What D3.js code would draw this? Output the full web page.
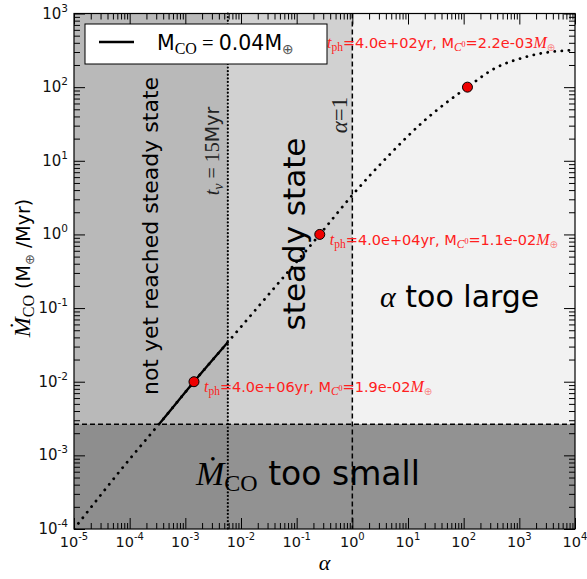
<!DOCTYPE html>
<html><head><meta charset="utf-8">
<script src="https://cdn.jsdelivr.net/npm/d3@7"></script>
<style>
body{margin:0;background:#fff;}
text{font-family:"DejaVu Sans",sans-serif;}
.math{font-family:"Liberation Serif","DejaVu Serif",serif;}
</style></head>
<body><svg id="c" width="587" height="579"></svg>
<script>
// ---- data ----
const curveAlpha = [1e-5, 1e-4, 3.36e-4, 1.43e-3, 5.8e-3, 0.03, 0.26, 1, 4.7, 18.7, 117, 387, 1150, 3000, 1e4];
const curveMdot  = [1.0e-4, 8.9e-4, 2.65e-3, 1.0e-2, 3.44e-2, 0.147, 1.0, 3.42, 12.2, 33.9, 100, 185, 250, 295, 318];
const pointAlpha = [1.43e-3, 0.26, 117];
const pointMdot  = [1.0e-2, 1.0, 100];
const tphLabels  = ["4.0e+06", "4.0e+04", "4.0e+02"];
const mc0Labels  = ["1.9e-02", "1.1e-02", "2.2e-03"];
const labelAlpha = [2.16e-3, 0.394, 0.35];
const labelMdot  = [7.2e-3, 0.716, 340];
const alphaNu = 5.8e-3;     // t_nu = 15 Myr
const alphaMax = 1;         // alpha = 1
const mdotMin = 2.65e-3;    // Mdot too small threshold
const xTickExps = [-5,-4,-3,-2,-1,0,1,2,3,4];
const yTickExps = [-4,-3,-2,-1,0,1,2,3];

// ---- setup ----
const svg = d3.select("#c");
const x = d3.scaleLog().domain([1e-5,1e4]).range([74,575]);
const y = d3.scaleLog().domain([1e-4,1e3]).range([529,13.5]);
const [x0,x1] = x.range(), [y0,y1] = y.range();

// regions
const reg = svg.append("g");
reg.append("rect").attr("x",x0).attr("y",y1).attr("width",x(alphaNu)-x0).attr("height",y(mdotMin)-y1).attr("fill","#b9b9b9");
reg.append("rect").attr("x",x(alphaNu)).attr("y",y1).attr("width",x(alphaMax)-x(alphaNu)).attr("height",y(mdotMin)-y1).attr("fill","#d1d1d1");
reg.append("rect").attr("x",x(alphaMax)).attr("y",y1).attr("width",x1-x(alphaMax)).attr("height",y(mdotMin)-y1).attr("fill","#f2f2f2");
reg.append("rect").attr("x",x0).attr("y",y(mdotMin)).attr("width",x(alphaNu)-x0).attr("height",y0-y(mdotMin)).attr("fill","#8e8e8e");
reg.append("rect").attr("x",x(alphaNu)).attr("y",y(mdotMin)).attr("width",x1-x(alphaNu)).attr("height",y0-y(mdotMin)).attr("fill","#929292");

// big region texts
function rotText(tx, ty, size, str, cls){
  return svg.append("text").attr("transform",`translate(${tx},${ty}) rotate(-90)`)
    .attr("text-anchor","middle").attr("font-size",size).attr("class",cls||null).text(str);
}
rotText(158, 236, 22, "not yet reached steady state");
rotText(305, 234, 31, "steady state");
// t_nu = 15Myr
{
  const t = svg.append("text").attr("transform","translate(219,151) rotate(-90)").attr("text-anchor","middle").attr("font-size",20).attr("fill","#222");
  t.append("tspan").attr("class","math").attr("font-style","italic").text("t");
  t.append("tspan").attr("class","math").attr("font-style","italic").attr("font-size",14).attr("dy",4).text("ν");
  t.append("tspan").attr("class","math").attr("dy",-4).text(" = 15");
  t.append("tspan").attr("font-size",19).text("Myr");
}
// alpha = 1
{
  const t = svg.append("text").attr("transform","translate(347,115) rotate(-90)").attr("text-anchor","middle").attr("font-size",23).attr("class","math").attr("fill","#222");
  t.append("tspan").attr("font-style","italic").text("α");
  t.append("tspan").text("=1");
}
// alpha too large
{
  const t = svg.append("text").attr("x",380).attr("y",307).attr("font-size",30);
  t.append("tspan").attr("class","math").attr("font-style","italic").text("α");
  t.append("tspan").text(" too large");
}
// Mdot too small
{
  const t = svg.append("text").attr("x",196).attr("y",485).attr("font-size",33);
  t.append("tspan").attr("class","math").attr("font-style","italic").attr("font-size",34).text("Ṁ");
  t.append("tspan").attr("class","math").attr("font-size",24).attr("dy",6).text("CO");
  t.append("tspan").attr("dy",-6).text(" too small");
}

// reference lines
svg.append("line").attr("x1",x(alphaNu)).attr("x2",x(alphaNu)).attr("y1",y1).attr("y2",y0)
  .attr("stroke","#000").attr("stroke-width",2.2).attr("stroke-dasharray","0.1,3.5").attr("stroke-linecap","round");
svg.append("line").attr("x1",x(alphaMax)).attr("x2",x(alphaMax)).attr("y1",y1).attr("y2",y0)
  .attr("stroke","#000").attr("stroke-width",1.5).attr("stroke-dasharray","5,3");
svg.append("line").attr("x1",x0).attr("x2",x1).attr("y1",y(mdotMin)).attr("y2",y(mdotMin))
  .attr("stroke","#000").attr("stroke-width",1.5).attr("stroke-dasharray","5,3");

// curve
const defs = svg.append("defs");
defs.append("clipPath").attr("id","solidclip").append("rect")
  .attr("x",x0).attr("y",y1).attr("width",x(alphaNu)-x0).attr("height",y(mdotMin)-y1);
defs.append("clipPath").attr("id","plotclip").append("rect")
  .attr("x",x0).attr("y",y1).attr("width",x1-x0).attr("height",y0-y1);
const pts = curveAlpha.map((a,i)=>[a,curveMdot[i]]);
const line = d3.line().x(d=>x(d[0])).y(d=>y(d[1])).curve(d3.curveMonotoneX);
svg.append("path").attr("d",line(pts)).attr("fill","none").attr("stroke","#000").attr("stroke-width",2.8)
  .attr("stroke-dasharray","0.1,7").attr("stroke-linecap","round").attr("clip-path","url(#plotclip)");
svg.append("path").attr("d",line(pts)).attr("fill","none").attr("stroke","#000").attr("stroke-width",2.4)
  .attr("clip-path","url(#solidclip)");

// red points
svg.append("g").selectAll("circle").data(pointAlpha).join("circle")
  .attr("cx",d=>x(d)).attr("cy",(d,i)=>y(pointMdot[i])).attr("r",5)
  .attr("fill","#ee0000").attr("stroke","#000").attr("stroke-width",1);

// red labels
labelAlpha.forEach((a,i)=>{
  const t = svg.append("text").attr("x",x(a)).attr("y",y(labelMdot[i])).attr("font-size",14.5).attr("fill","#ff2020");
  t.append("tspan").attr("class","math").attr("font-style","italic").attr("font-size",16).text("t");
  t.append("tspan").attr("class","math").attr("font-size",11.5).attr("dy",3).text("ph");
  t.append("tspan").attr("dy",-3).text("=" + tphLabels[i] + "yr, M");
  t.append("tspan").attr("class","math").attr("font-style","italic").attr("font-size",11.5).attr("dy",3).text("C");
  t.append("tspan").attr("class","math").attr("font-size",8).attr("dy",-4).text("0");
  t.append("tspan").attr("dy",1).text("=" + mc0Labels[i]);
  t.append("tspan").attr("class","math").attr("font-style","italic").attr("font-size",16).text("M");
  t.append("tspan").attr("font-size",10).attr("dy",3).attr("fill-opacity",0.55).text("⊕");
});

// axes (ticks inside)
const majX = xTickExps.map(e=>Math.pow(10,e));
const majY = yTickExps.map(e=>Math.pow(10,e));
const minX = [], minY = [];
xTickExps.slice(0,-1).forEach(e=>{ for(let k=2;k<10;k++) minX.push(k*Math.pow(10,e)); });
yTickExps.slice(0,-1).forEach(e=>{ for(let k=2;k<10;k++) minY.push(k*Math.pow(10,e)); });
function addAxis(gen, tr){
  const g = svg.append("g").attr("transform",tr).call(gen);
  g.select(".domain").remove();
  g.selectAll("text").remove();
  g.selectAll("line").attr("stroke","#000").attr("stroke-width",1);
  return g;
}
addAxis(d3.axisBottom(x).tickValues(majX).tickSize(-11).tickFormat(""), `translate(0,${y0})`);
addAxis(d3.axisBottom(x).tickValues(minX).tickSize(-6).tickFormat(""), `translate(0,${y0})`);
addAxis(d3.axisTop(x).tickValues(majX).tickSize(-11).tickFormat(""), `translate(0,${y1})`);
addAxis(d3.axisTop(x).tickValues(minX).tickSize(-6).tickFormat(""), `translate(0,${y1})`);
addAxis(d3.axisLeft(y).tickValues(majY).tickSize(-11).tickFormat(""), `translate(${x0},0)`);
addAxis(d3.axisLeft(y).tickValues(minY).tickSize(-6).tickFormat(""), `translate(${x0},0)`);
addAxis(d3.axisRight(y).tickValues(majY).tickSize(-11).tickFormat(""), `translate(${x1},0)`);
addAxis(d3.axisRight(y).tickValues(minY).tickSize(-6).tickFormat(""), `translate(${x1},0)`);

// frame
svg.append("rect").attr("x",x0).attr("y",y1).attr("width",x1-x0).attr("height",y0-y1)
  .attr("fill","none").attr("stroke","#000").attr("stroke-width",1.2);

// tick labels
xTickExps.forEach(e=>{
  const t = svg.append("text").attr("x",x(Math.pow(10,e))).attr("y",547).attr("text-anchor","middle").attr("font-size",14.5).attr("fill","#111");
  t.append("tspan").text("10");
  t.append("tspan").attr("font-size",10).attr("dy",-7).text(String(e));
});
yTickExps.forEach(e=>{
  const t = svg.append("text").attr("x",68).attr("y",y(Math.pow(10,e))+5).attr("text-anchor","end").attr("font-size",15).attr("fill","#111");
  t.append("tspan").text("10");
  t.append("tspan").attr("font-size",10.5).attr("dy",-7).text(String(e));
});

// axis labels
svg.append("text").attr("x",(x0+x1)/2).attr("y",570).attr("text-anchor","middle").attr("font-size",22)
  .attr("class","math").attr("font-style","italic").text("α");
{
  const t = svg.append("text").attr("transform","translate(30,268) rotate(-90)").attr("text-anchor","middle").attr("font-size",19);
  t.append("tspan").attr("class","math").attr("font-style","italic").attr("font-size",24).text("Ṁ");
  t.append("tspan").attr("class","math").attr("font-size",16).attr("dy",4).text("CO");
  t.append("tspan").attr("dy",-4).text(" (M");
  t.append("tspan").attr("font-size",13).attr("dy",4).attr("fill","#555").text("⊕");
  t.append("tspan").attr("dy",-4).text(" /Myr)");
}

// legend
{
  const lg = svg.append("g");
  lg.append("rect").attr("x",85).attr("y",24).attr("width",242).attr("height",40).attr("fill","#fff").attr("stroke","#000").attr("stroke-width",1);
  lg.append("line").attr("x1",99).attr("x2",134).attr("y1",42).attr("y2",42).attr("stroke","#000").attr("stroke-width",2.4);
  const t = lg.append("text").attr("x",157).attr("y",50).attr("font-size",20.5);
  t.append("tspan").text("M");
  t.append("tspan").attr("class","math").attr("font-size",16).attr("dy",4).text("CO");
  t.append("tspan").attr("class","math").attr("dy",-4).text(" = ");
  t.append("tspan").text("0.04M");
  t.append("tspan").attr("font-size",14).attr("dy",4).attr("fill","#555").text("⊕");
}
</script></body></html>
